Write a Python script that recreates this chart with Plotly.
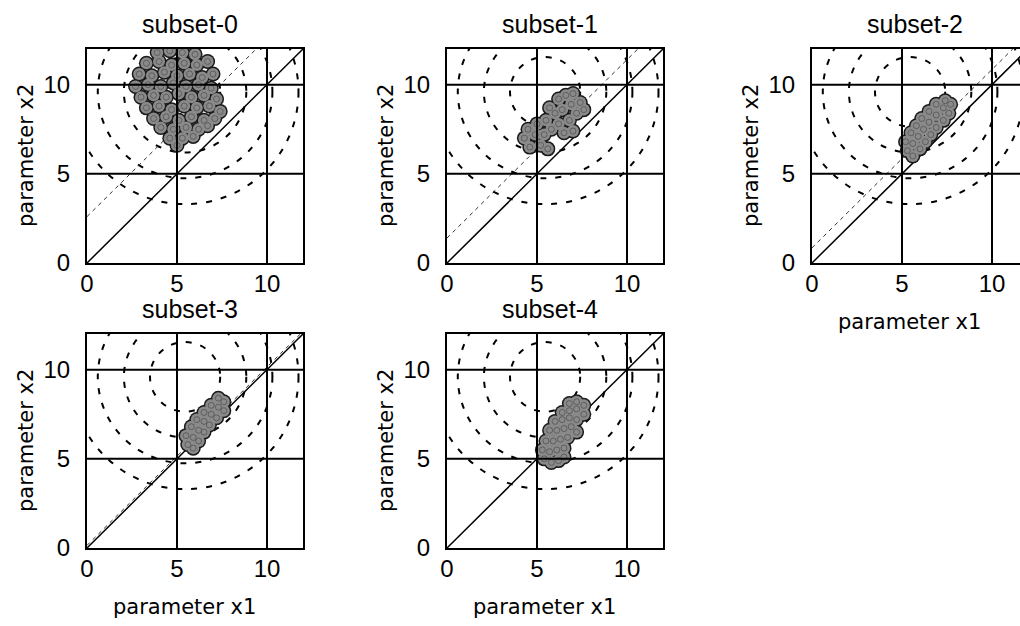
import plotly.graph_objects as go

# ---- data -------------------------------------------------------------
SUBSET_NAMES = ["subset-0", "subset-1", "subset-2", "subset-3", "subset-4"]
TICK_VALUES = [0, 5, 10]
AXIS_MAX = 12

subset0_x1 = [3.9, 4.6, 5.3, 6.0,
              3.3, 4.0, 4.7, 5.4, 6.1, 6.7,
              2.9, 3.6, 4.3, 5.0, 5.7, 6.4, 7.0,
              2.7, 3.4, 4.1, 4.8, 5.5, 6.2, 6.9,
              3.0, 3.7, 4.4, 5.1, 5.8, 6.5, 7.2,
              3.3, 4.0, 4.7, 5.4, 6.1, 6.8, 7.4,
              3.7, 4.4, 5.1, 5.8, 6.5, 7.1,
              4.1, 4.8, 5.5, 6.2, 6.7,
              4.6, 5.3, 5.9, 5.0]
subset0_x2 = [11.8, 11.9, 11.8, 11.7,
              11.2, 11.3, 11.1, 11.2, 11.1, 11.3,
              10.6, 10.5, 10.7, 10.5, 10.6, 10.4, 10.6,
              9.9, 10.0, 9.9, 10.1, 9.9, 10.0, 9.8,
              9.3, 9.4, 9.3, 9.5, 9.3, 9.4, 9.2,
              8.7, 8.8, 8.6, 8.8, 8.7, 8.8, 8.5,
              8.1, 8.2, 8.0, 8.2, 8.0, 8.1,
              7.6, 7.5, 7.6, 7.5, 7.7,
              7.0, 7.0, 7.1, 6.6]

subset1_x1 = [4.3, 4.6, 4.9, 5.2, 4.5, 5.0, 5.4, 5.6,
              5.5, 5.8, 6.0, 6.2, 6.5, 5.7, 6.4, 6.8, 7.0,
              6.2, 6.6, 6.9, 7.2, 7.4, 7.0, 7.6]
subset1_x2 = [7.0, 6.5, 7.2, 6.6, 7.5, 7.8, 7.2, 6.4,
              8.0, 7.5, 8.4, 7.8, 7.3, 8.7, 8.6, 8.0, 7.4,
              9.2, 9.4, 8.9, 8.4, 9.0, 9.5, 8.6]

subset2_x1 = [5.3, 5.6, 5.2, 5.6, 6.0, 5.5, 5.9, 6.3, 5.8, 6.2, 6.6,
              6.1, 6.5, 6.9, 6.5, 6.9, 7.3, 6.9, 7.3, 7.6, 7.4, 7.7]
subset2_x2 = [6.3, 6.0, 6.8, 6.7, 6.4, 7.3, 7.1, 6.8, 7.7, 7.5, 7.2,
              8.1, 7.9, 7.6, 8.5, 8.3, 8.0, 8.9, 8.7, 8.4, 9.1, 8.9]

subset3_x1 = [5.6, 5.9, 5.5, 5.9, 6.2, 5.8, 6.2, 6.5, 6.1, 6.5,
              6.8, 6.5, 6.9, 7.2, 6.9, 7.3, 7.6, 7.3, 7.6]
subset3_x2 = [5.8, 5.6, 6.3, 6.2, 6.0, 6.8, 6.6, 6.5, 7.2, 7.1,
              6.9, 7.6, 7.5, 7.3, 8.0, 7.9, 7.7, 8.4, 8.2]

subset4_x1 = [5.4, 5.8, 6.2, 6.5, 5.3, 5.7, 6.1, 6.5, 5.5, 5.9, 6.3, 6.7,
              5.7, 6.1, 6.5, 6.9, 7.2, 6.0, 6.4, 6.8, 7.2, 6.4, 6.8, 7.2,
              7.6, 6.8, 7.2, 7.6]
subset4_x2 = [5.0, 4.8, 4.9, 5.1, 5.5, 5.4, 5.5, 5.6, 6.0, 6.0, 6.1, 6.2,
              6.6, 6.6, 6.7, 6.8, 6.5, 7.1, 7.2, 7.3, 7.2, 7.6, 7.7, 7.8,
              7.5, 8.1, 8.2, 8.0]

SUBSET_X1 = [subset0_x1, subset1_x1, subset2_x1, subset3_x1, subset4_x1]
SUBSET_X2 = [subset0_x2, subset1_x2, subset2_x2, subset3_x2, subset4_x2]

# dashed contour rings around a common centre
CONTOUR_CENTER_X1 = 5.45
CONTOUR_CENTER_X2 = 9.6
CONTOUR_RADII = [1.95, 3.4, 4.85, 6.3]

# intercept of the thin dashed line x2 = x1 + c for each subset
FIT_OFFSETS = [2.6, 1.4, 0.85, 0.15, None]

# ---- layout geometry (pixels) ---------------------------------------
W, H = 1020, 626
PANEL_PX = [  # left, top, right, bottom
    (87, 49, 303, 263),
    (447, 49, 663, 263),
    (812, 49, 1020, 263),
    (87, 334, 303, 548),
    (447, 334, 663, 548),
]
PX_PER_UNIT = 18.0
SHOW_X_TITLE = [False, False, True, True, True]

TICK_FONT = dict(family="Liberation Sans, Arial, sans-serif", size=24, color="black")
TITLE_FONT = dict(family="Liberation Sans, Arial, sans-serif", size=25, color="black")
LABEL_FONT = dict(family="DejaVu Sans, sans-serif", size=21, color="black")


def px_x(p):
    return p / W


def px_y(p):
    return 1 - p / H


fig = go.Figure()
shapes = []
annotations = []

for i, (l, t, r, b) in enumerate(PANEL_PX):
    n = "" if i == 0 else str(i + 1)
    xa, ya = "x" + n, "y" + n
    xmax = (r - l) / PX_PER_UNIT

    # samples: dark rim, grey body, then small open rings for texture
    for size, symbol, fill, edge in [(15, "circle", "#1a1a1a", 0),
                                     (12, "circle", "#8a8a8a", 0),
                                     (6, "circle-open", "#5e5e5e", 1)]:
        fig.add_trace(go.Scatter(
            x=SUBSET_X1[i], y=SUBSET_X2[i], xaxis=xa, yaxis=ya,
            mode="markers", showlegend=False, cliponaxis=True,
            hoverinfo="skip" if edge else None,
            marker=dict(size=size, symbol=symbol, color=fill,
                        line=dict(color=fill, width=edge)),
        ))

    common = dict(
        showgrid=False, zeroline=False, showline=True, linecolor="black",
        linewidth=2, ticks="", tickmode="array", tickvals=TICK_VALUES,
        ticktext=[str(v) for v in TICK_VALUES], tickfont=TICK_FONT,
        automargin=False,
    )
    fig.layout["xaxis" + n] = dict(
        common, domain=[px_x(l), px_x(r)], range=[0, xmax], anchor=ya,
        mirror=True, ticklabelstandoff=-2,
    )
    fig.layout["yaxis" + n] = dict(
        common, domain=[px_y(b), px_y(t)], range=[0, AXIS_MAX], anchor=xa,
        mirror=(r < W), ticklabelstandoff=10,
    )

    # contour rings
    for rad in CONTOUR_RADII:
        shapes.append(dict(
            type="circle", xref=xa, yref=ya, layer="below",
            x0=CONTOUR_CENTER_X1 - rad, x1=CONTOUR_CENTER_X1 + rad,
            y0=CONTOUR_CENTER_X2 - rad, y1=CONTOUR_CENTER_X2 + rad,
            line=dict(color="black", width=2, dash="6px,9px"),
        ))

    # identity line
    shapes.append(dict(
        type="line", xref=xa, yref=ya, layer="below",
        x0=0, y0=0, x1=AXIS_MAX, y1=AXIS_MAX,
        line=dict(color="black", width=1.5),
    ))

    # thin dashed fitted line
    c = FIT_OFFSETS[i]
    if c is not None:
        shapes.append(dict(
            type="line", xref=xa, yref=ya, layer="below",
            x0=0, y0=c, x1=AXIS_MAX, y1=AXIS_MAX + c,
            line=dict(color="#333333", width=1, dash="4px,4px"),
        ))

    # reference grid lines drawn above the samples
    for v in TICK_VALUES[1:]:
        shapes.append(dict(type="line", xref=xa, yref=ya, layer="above",
                           x0=v, x1=v, y0=0, y1=AXIS_MAX,
                           line=dict(color="black", width=2)))
        shapes.append(dict(type="line", xref=xa, yref=ya, layer="above",
                           x0=0, x1=AXIS_MAX, y0=v, y1=v,
                           line=dict(color="black", width=2)))

    # panel title
    annotations.append(dict(
        text=SUBSET_NAMES[i], xref="paper", yref="paper", showarrow=False,
        x=px_x(l + 103), y=px_y(t - 25),
        xanchor="center", yanchor="middle", font=TITLE_FONT,
    ))
    # y label
    annotations.append(dict(
        text="parameter x2", xref="paper", yref="paper", showarrow=False,
        x=px_x(l - 61), y=px_y((t + b) / 2), textangle=-90,
        xanchor="center", yanchor="middle", font=LABEL_FONT,
    ))
    # x label
    if SHOW_X_TITLE[i]:
        annotations.append(dict(
            text="parameter x1", xref="paper", yref="paper", showarrow=False,
            x=px_x(l + 97), y=px_y(b + 59),
            xanchor="center", yanchor="middle", font=LABEL_FONT,
        ))

fig.update_layout(
    width=W, height=H,
    margin=dict(l=0, r=0, t=0, b=0, autoexpand=False),
    paper_bgcolor="white", plot_bgcolor="white",
    shapes=shapes, annotations=annotations,
    showlegend=False,
)

fig.write_html("out.html")
